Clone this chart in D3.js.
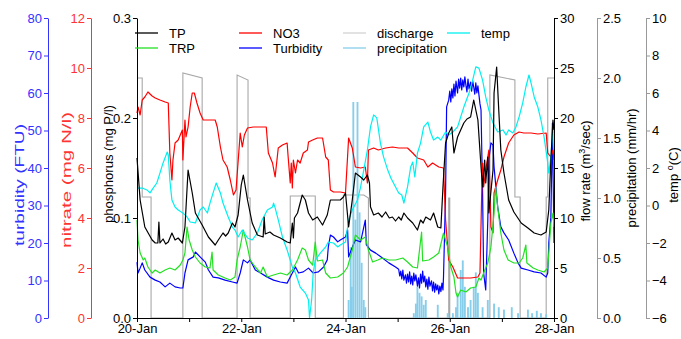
<!DOCTYPE html>
<html>
<head>
<meta charset="utf-8">
<script src="https://cdn.jsdelivr.net/npm/d3@7"></script>
<style>
  body { margin: 0; background: #fff; }
  svg { display: block; }
</style>
</head>
<body>
<div id="chart"></div>
<script>
// --- data: [day offset from 20-Jan 00:00, value] ---
const tpData = [[0.00,.160],[0.06,.118],[0.15,.091],[0.29,.078],[0.35,.075],[0.40,.075],[0.42,.096],[0.44,.075],[0.50,.079],[0.55,.074],[0.60,.076],[0.67,.085],[0.73,.078],[0.79,.080],[0.87,.075],[0.92,.091],[0.98,.148],[1.06,.125],[1.12,.105],[1.25,.093],[1.37,.081],[1.50,.073],[1.56,.078],[1.65,.085],[1.70,.082],[1.75,.085],[1.83,.095],[1.88,.091],[1.94,.103],[2.00,.133],[2.04,.143],[2.12,.118],[2.21,.095],[2.31,.083],[2.42,.081],[2.44,.101],[2.46,.084],[2.55,.086],[2.62,.083],[2.75,.080],[2.88,.076],[2.94,.075],[2.98,.095],[3.00,.080],[3.02,.100],[3.08,.105],[3.17,.123],[3.23,.118],[3.29,.105],[3.37,.098],[3.46,.101],[3.56,.093],[3.65,.103],[3.71,.118],[3.81,.118],[3.90,.118],[3.96,.121],[4.00,.125],[4.06,.091],[4.13,.118],[4.19,.145],[4.29,.141],[4.35,.138],[4.42,.143],[4.46,.135],[4.48,.111],[4.54,.103],[4.63,.105],[4.70,.101],[4.77,.106],[4.84,.100],[4.90,.101],[4.96,.097],[5.02,.101],[5.07,.098],[5.12,.105],[5.19,.100],[5.29,.095],[5.38,.088],[5.44,.098],[5.49,.095],[5.54,.101],[5.63,.098],[5.69,.105],[5.77,.091],[5.83,.090],[5.87,.131],[5.92,.175],[5.98,.185],[6.04,.191],[6.08,.165],[6.15,.181],[6.21,.188],[6.27,.195],[6.33,.199],[6.40,.201],[6.46,.218],[6.54,.198],[6.60,.151],[6.63,.131],[6.67,.158],[6.69,.135],[6.73,.161],[6.75,.105],[6.83,.148],[6.85,.225],[6.90,.251],[6.94,.208],[6.98,.168],[7.04,.145],[7.13,.118],[7.23,.106],[7.37,.095],[7.50,.090],[7.62,.085],[7.75,.083],[7.85,.086],[7.90,.108],[7.94,.158],[7.98,.198],[8.00,.188]];

const trpData = [[0.00,.098],[0.02,.078],[0.06,.065],[0.12,.058],[0.15,.060],[0.21,.051],[0.29,.045],[0.35,.048],[0.44,.045],[0.54,.048],[0.63,.050],[0.73,.048],[0.83,.053],[0.88,.058],[0.92,.065],[0.96,.091],[1.00,.078],[1.06,.068],[1.12,.061],[1.21,.055],[1.31,.051],[1.40,.050],[1.44,.066],[1.46,.048],[1.56,.043],[1.69,.040],[1.79,.038],[1.88,.041],[1.92,.058],[1.98,.071],[2.04,.088],[2.12,.071],[2.17,.058],[2.27,.051],[2.37,.045],[2.42,.051],[2.50,.041],[2.62,.043],[2.75,.045],[2.88,.043],[2.98,.048],[3.08,.058],[3.17,.070],[3.23,.068],[3.29,.058],[3.37,.053],[3.42,.076],[3.46,.057],[3.56,.058],[3.62,.045],[3.71,.040],[3.85,.041],[3.96,.045],[4.04,.051],[4.13,.068],[4.19,.083],[4.29,.078],[4.38,.081],[4.44,.068],[4.52,.056],[4.62,.058],[4.71,.060],[4.83,.058],[4.96,.058],[5.10,.060],[5.19,.056],[5.29,.051],[5.38,.050],[5.46,.086],[5.48,.057],[5.60,.058],[5.69,.061],[5.79,.065],[5.88,.085],[5.96,.071],[6.02,.051],[6.08,.041],[6.12,.025],[6.15,.021],[6.21,.028],[6.31,.026],[6.40,.030],[6.50,.031],[6.56,.040],[6.60,.038],[6.65,.045],[6.73,.055],[6.79,.071],[6.85,.105],[6.88,.131],[6.92,.111],[6.98,.085],[7.04,.068],[7.12,.058],[7.23,.055],[7.33,.055],[7.40,.060],[7.46,.073],[7.48,.055],[7.60,.050],[7.69,.048],[7.81,.046],[7.88,.050],[7.94,.095],[7.98,.105],[8.00,.091]];

const no3Data = [[0.00,8.2],[0.02,8.44],[0.06,8.12],[0.10,8.72],[0.15,8.84],[0.21,9.04],[0.29,8.88],[0.35,8.8],[0.44,8.72],[0.54,8.64],[0.60,8.6],[0.63,6.6],[0.67,5.52],[0.69,6.32],[0.73,7.0],[0.79,7.12],[0.87,7.52],[0.88,6.32],[0.92,7.92],[0.94,7.24],[0.98,7.64],[1.02,8.44],[1.06,9.0],[1.10,9.0],[1.15,8.6],[1.21,8.2],[1.27,7.92],[1.37,7.92],[1.50,7.92],[1.54,7.64],[1.60,6.84],[1.65,6.32],[1.73,6.04],[1.79,5.52],[1.85,4.92],[1.90,5.12],[1.98,7.4],[2.02,6.84],[2.06,7.32],[2.12,7.6],[2.23,7.64],[2.37,7.64],[2.48,7.64],[2.52,6.6],[2.60,6.2],[2.65,5.64],[2.71,6.8],[2.79,6.92],[2.88,7.0],[2.90,6.44],[2.94,5.4],[2.96,6.2],[2.98,5.2],[3.00,6.32],[3.04,5.8],[3.08,6.32],[3.13,6.2],[3.19,6.6],[3.27,6.72],[3.29,7.04],[3.37,7.12],[3.46,7.2],[3.56,7.2],[3.62,6.44],[3.67,6.32],[3.71,5.12],[3.77,5.04],[3.90,5.04],[4.00,5.0],[4.06,7.2],[4.13,6.8],[4.19,6.04],[4.29,6.0],[4.38,6.04],[4.42,5.4],[4.44,6.72],[4.54,6.8],[4.63,6.72],[4.77,6.8],[4.90,6.84],[5.02,6.8],[5.19,6.8],[5.29,6.6],[5.38,6.4],[5.50,6.32],[5.58,6.04],[5.67,6.2],[5.79,6.04],[5.88,6.0],[5.92,3.92],[5.98,2.32],[6.06,2.04],[6.15,1.6],[6.27,1.6],[6.40,1.6],[6.54,1.64],[6.58,1.8],[6.62,5.64],[6.63,6.2],[6.65,5.24],[6.69,5.92],[6.73,6.44],[6.75,6.72],[6.79,3.64],[6.83,3.4],[6.85,5.0],[6.92,5.52],[6.98,5.92],[7.04,6.44],[7.13,7.0],[7.23,7.32],[7.33,7.44],[7.42,7.4],[7.56,7.4],[7.69,7.36],[7.85,7.4],[7.88,6.6],[7.94,6.44],[7.98,6.72],[8.00,6.32]];

const turbData = [[0.00,14.9],[0.02,12.0],[0.06,13.3],[0.10,14.7],[0.15,12.8],[0.25,10.9],[0.35,10.1],[0.44,9.6],[0.54,8.3],[0.63,9.3],[0.73,8.3],[0.83,8.0],[0.88,8.0],[0.92,12.0],[0.98,15.5],[1.08,16.3],[1.12,17.6],[1.21,16.3],[1.31,14.9],[1.37,12.8],[1.46,10.9],[1.56,10.7],[1.69,10.1],[1.83,9.6],[1.92,9.3],[1.98,12.0],[2.04,15.5],[2.12,14.7],[2.17,15.5],[2.27,12.8],[2.37,12.0],[2.50,10.9],[2.62,10.1],[2.75,9.6],[2.88,9.3],[2.98,12.0],[3.04,13.6],[3.10,12.0],[3.19,12.3],[3.29,13.3],[3.38,12.0],[3.48,12.3],[3.58,13.6],[3.65,15.5],[3.67,18.9],[3.71,22.1],[3.77,21.6],[3.85,20.3],[3.90,20.8],[4.00,21.6],[4.04,23.5],[4.06,16.3],[4.13,18.9],[4.19,20.8],[4.29,20.3],[4.38,26.1],[4.40,19.5],[4.48,18.1],[4.58,17.3],[4.71,16.0],[4.83,14.7],[4.96,13.6],[5.02,13.0],[5.04,11.2],[5.06,12.5],[5.08,10.4],[5.10,12.8],[5.12,10.1],[5.15,11.5],[5.17,9.3],[5.19,11.7],[5.21,9.6],[5.23,12.3],[5.25,9.1],[5.27,11.2],[5.29,8.8],[5.31,12.0],[5.33,9.9],[5.35,11.5],[5.38,8.5],[5.40,10.7],[5.42,8.0],[5.44,11.7],[5.46,9.3],[5.48,12.5],[5.50,9.6],[5.52,11.2],[5.54,8.3],[5.56,10.4],[5.58,7.7],[5.60,10.9],[5.62,8.5],[5.65,9.9],[5.67,7.2],[5.69,9.6],[5.71,6.9],[5.73,9.1],[5.75,7.5],[5.77,8.8],[5.79,6.4],[5.81,8.5],[5.83,7.0],[5.85,9.3],[5.87,7.5],[5.88,10.9],[5.92,33.3],[5.94,56.3],[5.98,58.1],[6.00,60.5],[6.02,57.6],[6.04,61.1],[6.06,58.7],[6.08,62.4],[6.10,59.2],[6.12,63.2],[6.15,60.0],[6.17,63.7],[6.19,61.3],[6.21,64.0],[6.23,60.8],[6.25,63.5],[6.27,61.6],[6.29,64.3],[6.31,62.1],[6.33,60.3],[6.35,63.7],[6.37,61.1],[6.40,62.9],[6.42,60.5],[6.44,63.2],[6.46,61.6],[6.48,59.7],[6.50,62.7],[6.52,60.0],[6.54,61.9],[6.56,59.5],[6.58,57.1],[6.60,55.5],[6.63,33.3],[6.65,12.0],[6.69,7.5],[6.73,26.1],[6.75,42.1],[6.79,46.7],[6.83,46.1],[6.85,40.3],[6.92,29.6],[6.98,24.3],[7.04,22.7],[7.13,20.8],[7.23,17.3],[7.31,14.7],[7.37,13.3],[7.50,12.8],[7.62,12.3],[7.75,12.0],[7.85,10.9],[7.88,12.0],[7.90,20.0],[7.94,26.9],[7.97,52.0],[8.00,20.0]];

const flowData = [[0.00,24.0],[0.10,24.0],[0.10,12.1],[0.27,12.1],[0.27,0],[0.88,0],[0.88,24.5],[1.25,24.0],[1.25,0],[1.92,0],[1.92,24.3],[2.13,23.8],[2.13,12.0],[2.17,12.0],[2.17,0],[2.94,0],[2.94,12.2],[3.42,12.2],[3.42,0],[3.96,0],[3.96,12.3],[4.35,12.3],[4.44,12.0],[4.44,0],[5.98,0],[5.98,12.0],[6.00,12.0],[6.00,0],[6.77,0],[6.77,24.3],[7.25,23.8],[7.25,12.1],[7.35,12.1],[7.35,0],[7.85,0],[7.85,12.1],[7.88,12.1],[7.88,24.0],[8.00,24.0]];

const precipData = [[4.06,0.15],[4.10,0.59],[4.12,0.26],[4.15,1.80],[4.19,0.82],[4.23,1.80],[4.27,0.88],[4.31,0.46],[4.35,0.15],[4.38,0.09],[5.31,0.04],[5.35,0.12],[5.38,0.26],[5.42,0.21],[5.46,0.18],[5.50,0.11],[5.54,0.15],[5.77,0.11],[5.96,0.04],[6.06,0.04],[6.12,0.09],[6.15,0.21],[6.21,0.40],[6.25,0.48],[6.29,0.26],[6.35,0.09],[6.40,0.15],[6.46,0.26],[6.50,0.38],[6.54,0.21],[6.63,0.09],[6.73,0.15],[6.85,0.12],[6.94,0.09],[7.04,0.07],[7.19,0.09],[7.31,0.04],[7.50,0.07],[7.58,0.04],[7.67,0.06],[7.75,0.04],[7.85,0.03]];

const tempData = [[0.00,0.93],[0.10,0.93],[0.19,0.83],[0.25,0.67],[0.31,0.93],[0.38,1.2],[0.44,1.73],[0.50,2.27],[0.58,2.85],[0.60,2.69],[0.63,1.36],[0.67,0.29],[0.73,-0.08],[0.79,-0.24],[0.88,-0.4],[0.96,-0.61],[1.02,-0.88],[1.12,-0.93],[1.21,-0.24],[1.27,-0.08],[1.35,-0.4],[1.40,0.13],[1.46,0.67],[1.52,1.2],[1.60,0.67],[1.65,0.13],[1.75,-0.61],[1.83,-1.15],[1.88,-1.31],[1.94,-1.68],[2.02,-1.31],[2.12,-1.73],[2.21,-1.84],[2.31,-1.47],[2.40,-0.77],[2.50,-0.24],[2.60,-0.08],[2.62,0.13],[2.65,-0.13],[2.71,-0.77],[2.79,-1.68],[2.88,-2.37],[2.98,-3.28],[3.04,-3.6],[3.13,-4.35],[3.23,-4.67],[3.29,-5.04],[3.31,-6.0],[3.35,-5.04],[3.38,-3.6],[3.42,-2.91],[3.52,-2.53],[3.62,-2.21],[3.67,-1.95],[3.77,-2.0],[3.85,-2.21],[3.90,-2.11],[4.00,-1.95],[4.06,-0.77],[4.13,-0.24],[4.23,0.29],[4.29,0.99],[4.35,1.89],[4.42,2.96],[4.48,4.19],[4.54,4.83],[4.60,4.67],[4.67,3.33],[4.73,2.59],[4.81,1.89],[4.87,1.47],[4.96,0.99],[5.02,0.67],[5.08,0.56],[5.12,0.13],[5.19,0.99],[5.25,2.05],[5.29,2.32],[5.33,1.52],[5.38,2.8],[5.44,3.33],[5.50,4.19],[5.58,4.45],[5.63,3.92],[5.69,3.49],[5.77,3.65],[5.83,3.49],[5.92,3.92],[5.98,3.76],[6.06,3.92],[6.15,4.19],[6.21,4.72],[6.27,5.25],[6.37,6.0],[6.44,6.69],[6.50,7.39],[6.56,7.33],[6.63,6.69],[6.69,5.79],[6.75,5.09],[6.83,4.4],[6.92,3.92],[7.02,4.03],[7.08,3.76],[7.13,4.03],[7.21,3.87],[7.27,4.19],[7.33,4.72],[7.40,5.47],[7.46,6.32],[7.52,6.96],[7.56,6.53],[7.62,5.79],[7.69,5.25],[7.75,4.56],[7.81,3.65],[7.88,2.27],[7.90,1.73],[7.94,2.59],[7.98,4.03],[8.00,4.29]];

// tick values
const turbTicks = [0, 10, 20, 30, 40, 50, 60, 70, 80];
const no3Ticks = [0, 2, 4, 6, 8, 10, 12];
const pTicks = [0, 0.1, 0.2, 0.3];
const flowTicks = [0, 5, 10, 15, 20, 25, 30];
const precipTicks = [0, 0.5, 1.0, 1.5, 2.0, 2.5];
const tempTicks = [-6, -4, -2, 0, 2, 4, 6, 8, 10];

// legend
const legendNames = ["TP", "TRP", "NO3", "Turbidity", "discharge", "precipitation", "temp"];

// --- layout ---
const W = 681, H = 339;
const L = 137, R = 554, T = 18, B = 318;
const FONT = "'Liberation Sans', Arial, sans-serif";
const C = {
  tp: "#000000", trp: "#22e022", no3: "#ff0000", turb: "#0000ff",
  flow: "#a8a8a8", precip: "#87ceeb", temp: "#00f0f0",
  turbAxis: "#3333ff", no3Axis: "#ff3333", grayAxis: "#999999"
};

const t0 = new Date(2019, 0, 20);
const toDate = d => new Date(t0.getTime() + d * 864e5);

const x = d3.scaleTime().domain([t0, toDate(8)]).range([L, R]);
const yP = d3.scaleLinear().domain([0, 0.3]).range([B, T]);
const yN = d3.scaleLinear().domain([0, 12]).range([B, T]);
const yTu = d3.scaleLinear().domain([0, 80]).range([B, T]);
const yQ = d3.scaleLinear().domain([0, 30]).range([B, T]);
const yPr = d3.scaleLinear().domain([0, 2.5]).range([B, T]);
const yTe = d3.scaleLinear().domain([-6, 10]).range([B, T]);

const svg = d3.select("#chart").append("svg")
  .attr("width", W).attr("height", H)
  .style("font-family", FONT);

// discharge first (behind everything)
const line = ys => d3.line().x(d => x(toDate(d[0]))).y(d => ys(d[1]));

svg.append("path").datum(flowData)
  .attr("d", line(yQ)).attr("fill", "none")
  .attr("stroke", C.flow).attr("stroke-width", 1.1);

// precipitation bars
const barW = x(toDate(1 / 24)) - x(toDate(0)) - 0.3;
svg.selectAll(".pr").data(precipData).join("rect")
  .attr("x", d => x(toDate(d[0])) - barW / 2)
  .attr("y", d => yPr(d[1]))
  .attr("width", barW)
  .attr("height", d => B - yPr(d[1]))
  .attr("fill", C.precip);

const series = [
  { data: turbData, y: yTu, color: C.turb },
  { data: no3Data, y: yN, color: C.no3 },
  { data: trpData, y: yP, color: C.trp },
  { data: tempData, y: yTe, color: C.temp },
  { data: tpData, y: yP, color: C.tp }
];
series.forEach(s => {
  svg.append("path").datum(s.data)
    .attr("d", line(s.y)).attr("fill", "none")
    .attr("stroke", s.color).attr("stroke-width", 1.2)
    .attr("stroke-linejoin", "round");
});

// --- axes ---
function styleAxis(g, lineColor, textColor) {
  g.selectAll(".domain, .tick line").attr("stroke", lineColor);
  g.selectAll("text").attr("fill", textColor)
    .attr("font-size", 13).attr("font-family", FONT);
}

const xAxis = d3.axisBottom(x)
  .tickValues(d3.range(0, 9).map(toDate))
  .tickFormat(d => (d.getDate() % 2 === 0 ? d3.timeFormat("%d-%b")(d) : ""))
  .tickSize(4).tickSizeOuter(0).tickPadding(2);
svg.append("g").attr("transform", `translate(0,${B})`).call(xAxis)
  .call(g => styleAxis(g, "#000", "#000"));

const leftAxes = [
  { x: 48, scale: yTu, ticks: turbTicks, fmt: d3.format("d"), line: C.turbAxis, text: C.turbAxis },
  { x: 91, scale: yN, ticks: no3Ticks, fmt: d3.format("d"), line: C.no3Axis, text: C.no3Axis },
  { x: L, scale: yP, ticks: pTicks, fmt: d3.format(".1f"), line: "#000", text: "#000" }
];
leftAxes.forEach(a => {
  svg.append("g").attr("transform", `translate(${a.x},0)`)
    .call(d3.axisLeft(a.scale).tickValues(a.ticks).tickFormat(a.fmt)
      .tickSize(4).tickSizeOuter(0).tickPadding(2))
    .call(g => styleAxis(g, a.line, a.text));
});

const rightAxes = [
  { x: R, scale: yQ, ticks: flowTicks, fmt: d3.format("d"), line: "#000" },
  { x: 597, scale: yPr, ticks: precipTicks, fmt: d3.format(".1f"), line: C.grayAxis },
  { x: 646, scale: yTe, ticks: tempTicks, fmt: d3.format("d"), line: C.grayAxis }
];
rightAxes.forEach(a => {
  svg.append("g").attr("transform", `translate(${a.x},0)`)
    .call(d3.axisRight(a.scale).tickValues(a.ticks).tickFormat(a.fmt)
      .tickSize(4).tickSizeOuter(0).tickPadding(2))
    .call(g => styleAxis(g, a.line, "#000"));
});

// --- axis titles (rotated); parts: plain strings or {sup, after} objects ---
function vTitle(cx, cy, color, parts, len) {
  const t = svg.append("text")
    .attr("transform", `translate(${cx},${cy}) rotate(-90)`)
    .attr("text-anchor", "middle").attr("dy", "0.35em")
    .attr("font-size", 13).attr("fill", color);
  if (len) t.attr("textLength", len).attr("lengthAdjust", "spacingAndGlyphs");
  parts.forEach(p => {
    if (typeof p === "string") {
      t.append("tspan").text(p);
    } else {
      t.append("tspan").attr("font-size", 9).attr("dy", -5).text(p.sup);
      t.append("tspan").attr("dy", 5).text(p.after);
    }
  });
}
vTitle(19, 185, C.turbAxis, ["turbidity (FTU)"], 122);
vTitle(66, 180, C.no3Axis, ["nitrate (mg N/l)"], 136);
vTitle(108, 164, "#000", ["phosphorus (mg P/l)"], 118);
vTitle(585, 171, "#000", ["flow rate (m", { sup: "3", after: "/sec)" }]);
vTitle(631, 168, "#000", ["precipitation (mm/hr)"]);
vTitle(673, 175, "#000", ["temp ", { sup: "o", after: "(C)" }]);

// --- legend ---
const legendColors = [C.tp, C.trp, C.no3, C.turb, "#d3d3d3", C.precip, C.temp];
const legendCols = [135, 239, 343, 447];
const legendRows = [33, 48];
const lg = svg.append("g");
legendNames.forEach((name, i) => {
  const cx = legendCols[Math.floor(i / 2)];
  const cy = legendRows[i % 2];
  lg.append("line").attr("x1", cx).attr("x2", cx + 23)
    .attr("y1", cy).attr("y2", cy)
    .attr("stroke", legendColors[i]).attr("stroke-width", 1.3);
  lg.append("text").attr("x", cx + 34).attr("y", cy).attr("dy", "0.35em")
    .attr("font-size", 13).attr("fill", "#000").text(name);
});
</script>
</body>
</html>
